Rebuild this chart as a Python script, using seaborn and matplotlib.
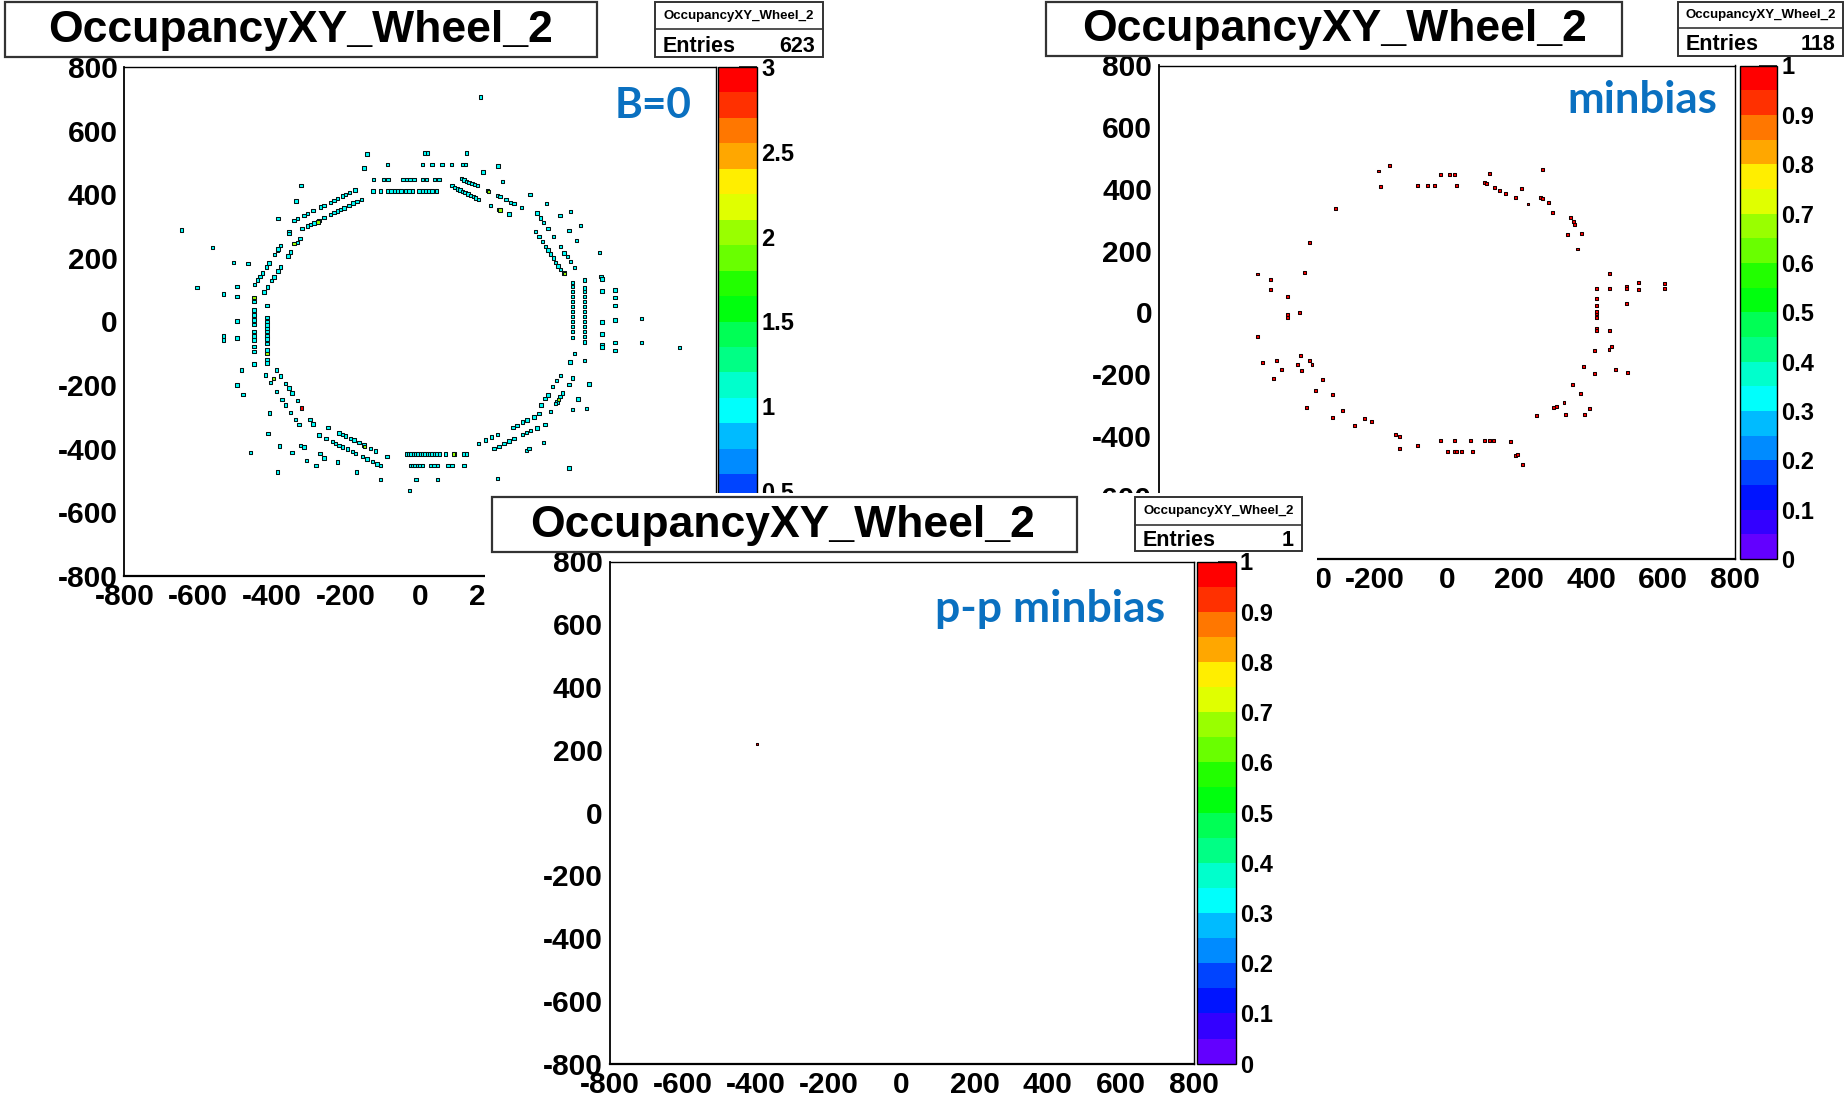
import colorsys

import numpy as np
import pandas as pd
import matplotlib
matplotlib.use('Agg')
import matplotlib.pyplot as plt
from matplotlib.cm import ScalarMappable
from matplotlib.colors import BoundaryNorm, ListedColormap
from matplotlib.patches import Rectangle
from matplotlib.ticker import MultipleLocator
import seaborn as sns

# ---- data (x, y in cm) ----

# B=0 run: bins with one hit
b0_hits = [
    # scattered hits
    (-143, 527), (13, 530), (20, 530), (126, 530), (-152, 482), (-88, 494), (6, 494), (33, 494),
    (59, 494), (85, 494), (116, 494), (123, 494), (211, 489), (171, 470), (223, 440), (-322, 427),
    (-336, 379), (-384, 324), (-355, 282), (298, 399), (343, 370), (379, 333), (408, 346), (435, 301),
    (403, 286), (424, 254), (485, 216), (-646, 287), (-562, 233), (-504, 186), (-466, 182), (-603, 107),
    (-531, 87), (-495, 110), (-495, 79), (-495, 2), (-531, -45), (-531, -58), (-495, -52), (164, 706),
    # top sector
    (-126, 446), (-98, 446), (-87, 446), (-46, 446), (-37, 446), (-27, 446), (-16, 446), (6, 446),
    (18, 446), (39, 446), (51, 446),
    (-127, 410), (-107, 410), (-87, 410), (-78, 410), (-69, 410), (-60, 410), (-51, 410), (-39, 410),
    (-30, 410), (-21, 410), (-3, 410), (6, 410), (15, 410), (24, 410), (33, 410), (45, 410),
    # top-right sectors
    (112, 449), (119, 445), (126, 440), (133, 437), (141, 434), (148, 430), (155, 427), (182, 411),
    (209, 396), (216, 392), (233, 383), (245, 375), (254, 370), (275, 359),
    (87, 427), (94, 422), (101, 417), (108, 413), (115, 409), (122, 405), (130, 401), (137, 396),
    (144, 392), (151, 388), (159, 383), (191, 365), (212, 353), (241, 338),
    (317, 341), (326, 325), (335, 312), (346, 293), (362, 267), (380, 236), (390, 215), (399, 204),
    (408, 189), (418, 170),
    (313, 283), (322, 267), (331, 252), (340, 236), (346, 225), (353, 212), (361, 199), (367, 186),
    (373, 175), (380, 164), (390, 152),
    # right sector
    (412, 123), (412, 110), (412, 94), (412, 78), (412, 62), (412, 47), (412, 31), (412, 15),
    (412, 0), (412, -16), (412, -32), (412, -51),
    (446, 131), (446, 105), (446, 94), (446, 78), (446, 62), (446, 47), (446, 31), (446, 15),
    (446, 0), (446, -16), (446, -32), (446, -48), (446, -64), (446, -122),
    (490, 141), (493, 133), (493, 96), (528, 99), (528, 76), (528, 50), (493, -1), (528, 5),
    (599, 10), (493, -39), (493, -72), (493, -80), (528, -66), (528, -91), (599, -66), (702, -82),
    # bottom-right sectors
    (418, -100), (406, -127), (380, -169), (370, -186), (358, -205), (346, -231), (338, -242),
    (328, -262),
    (412, -177), (403, -198), (385, -225), (379, -236), (371, -253), (367, -258),
    (457, -197), (428, -244), (412, -277), (451, -274), (353, -282), (335, -381), (403, -460),
    (322, -290), (308, -300), (290, -309), (277, -316), (263, -326), (252, -334), (209, -355),
    (193, -363), (178, -373), (159, -384),
    (338, -324), (317, -335), (299, -342), (288, -349), (277, -355), (254, -368), (241, -376),
    (227, -384), (214, -392), (200, -400),
    (288, -405), (295, -400), (209, -494),
    # bottom sector
    (-25, -452), (-19, -452), (-13, -452), (-6, -452), (0, -452), (6, -452), (29, -452), (38, -452),
    (47, -452), (76, -452), (87, -452), (119, -452),
    (-36, -417), (-30, -417), (-24, -417), (-17, -417), (-11, -417), (-5, -417), (2, -417),
    (8, -417), (14, -417), (21, -417), (27, -417), (33, -417), (39, -417), (46, -417), (52, -417),
    (69, -417), (94, -417), (119, -417), (126, -417),
    (-107, -496), (-11, -496), (47, -496), (-28, -532),
    # bottom-left sectors
    (-89, -425), (-120, -407), (-134, -399), (-152, -388), (-165, -381), (-179, -373), (-188, -367),
    (-201, -360), (-210, -355), (-219, -350),
    (-107, -453), (-116, -448), (-129, -441), (-143, -432), (-156, -425), (-174, -415), (-183, -409),
    (-197, -401), (-210, -394), (-219, -389), (-228, -384), (-237, -378), (-254, -368), (-273, -357),
    (-249, -334), (-271, -415), (-260, -429), (-224, -442), (-282, -452), (-307, -436), (-346, -412),
    (-381, -391), (-386, -473), (-458, -412), (-323, -389), (-314, -394), (-411, -352), (-172, -473),
    (-418, -168), (-404, -192), (-388, -220), (-373, -246), (-364, -262), (-350, -286), (-337, -308),
    (-328, -324),
    (-388, -152), (-377, -171), (-364, -194), (-355, -209), (-346, -225), (-332, -249), (-298, -308),
    (-290, -322),
    (-407, -287), (-483, -153), (-495, -200), (-479, -229),
    # left sector
    (-449, 62), (-449, 36), (-449, 20), (-449, 5), (-449, -9), (-449, -32), (-449, -45), (-449, -58),
    (-449, -79), (-449, -95), (-449, -134),
    (-414, 50), (-414, 12), (-414, 0), (-414, -11), (-414, -22), (-414, -32), (-414, -45),
    (-414, -55), (-414, -69), (-414, -90), (-414, -121), (-414, -130),
    # top-left sectors
    (-448, 116), (-440, 130), (-433, 142), (-427, 152), (-416, 171), (-409, 184), (-393, 211),
    (-386, 223), (-384, 228), (-377, 239), (-355, 277),
    (-422, 93), (-413, 109), (-402, 128), (-395, 140), (-384, 159), (-377, 171), (-357, 206),
    (-350, 218), (-332, 249), (-325, 261),
    (-341, 318), (-332, 323), (-314, 334), (-305, 339), (-290, 348), (-269, 360), (-260, 365),
    (-242, 375), (-233, 381), (-224, 386), (-210, 394), (-201, 399), (-190, 405), (-176, 413),
    (-319, 292), (-305, 300), (-296, 305), (-287, 310), (-273, 318), (-260, 326), (-242, 336),
    (-233, 342), (-224, 347), (-215, 352), (-206, 357), (-192, 365), (-181, 372), (-170, 378),
    (-159, 384),
]
# B=0 run: bins with two and three hits
b0_double = [(-341, 245), (-449, 75), (-414, -100), (-396, -180), (186, 408), (216, 350),
             (391, 150), (375, -245), (90, -417), (-150, -392), (-276, 313)]
b0_triple = [(-320, -272)]

# minbias run
mb_hits = [
    (-191, 458), (-161, 475), (-186, 407), (-311, 336), (-383, 225), (-396, 130), (-526, 124),
    (-490, 107), (-490, 75), (-444, 51), (-409, 0), (-444, -7), (-444, -17), (-526, -78),
    (-513, -163), (-474, -157), (-460, -187), (-483, -216), (-416, -169), (-408, -140), (-403, -190),
    (-383, -155), (-375, -169), (-346, -218), (-365, -255), (-319, -267), (-389, -310), (-317, -342),
    (-289, -318), (-256, -368), (-230, -344), (-211, -355), (-142, -395), (-131, -402), (-131, -443),
    (-83, -431), (-17, -417), (21, -417), (1, -451), (21, -451), (27, -451), (41, -451), (65, -417),
    (72, -451), (103, -417), (118, -417), (129, -417), (176, -419), (191, -465), (196, -462),
    (210, -494), (248, -336), (296, -310), (305, -307), (325, -293), (329, -330), (348, -235),
    (371, -264), (383, -333), (396, -312), (380, -175), (409, -199), (411, -124), (450, -122),
    (457, -112), (467, -187), (502, -196), (416, -54), (416, -58), (451, -59), (416, -16), (416, -3),
    (416, 3), (416, 23), (416, 44), (416, 77), (451, 77), (451, 127), (498, 83), (498, 76),
    (533, 95), (533, 75), (604, 92), (604, 77), (498, 29), (362, 205), (335, 252), (374, 255),
    (342, 308), (351, 295), (355, 285), (294, 324), (281, 356), (259, 371), (264, 368), (225, 351),
    (207, 400), (190, 371), (162, 385), (147, 395), (133, 404), (103, 421), (110, 416), (119, 451),
    (264, 463), (27, 412), (20, 448), (6, 448), (-17, 448), (-34, 412), (-55, 412), (-83, 412),
]

# p-p minbias run
pp_hits = [(-395, 218)]

entries = ['623', '118', '1']
labels = ['B=0', 'minbias', 'p-p minbias']
title = 'OccupancyXY_Wheel_2'

# ---- style ----
sns.set_style('white')
plt.rcParams['font.family'] = ['Liberation Sans', 'DejaVu Sans']
plt.rcParams['font.weight'] = 'bold'
plt.rcParams['axes.unicode_minus'] = False
for key in ('text.color', 'axes.labelcolor', 'xtick.color', 'ytick.color', 'axes.edgecolor'):
    plt.rcParams[key] = 'black'

W, H = 1845, 1106
fig = plt.figure(figsize=(W / 100, H / 100), dpi=100)
BLUE = '#0a70c0'


def root_palette(n=20):
    # ROOT "pretty" palette (SetPalette(1)) with 20 contour levels
    cols = []
    for i in range(n):
        idx = int((i + 0.99) * 50 / n)
        hue = 280 - (idx + 1) * 5.6
        cols.append(colorsys.hls_to_rgb(max(hue, 0) / 360, 0.5, 1.0))
    return cols


PAL = root_palette()


def frac(box):
    x0, y0, x1, y1 = box
    return [x0 / W, 1 - y1 / H, (x1 - x0) / W, (y1 - y0) / H]


def rect(box, z, lw=1.6):
    x0, y0, x1, y1 = box
    fig.add_artist(Rectangle((x0 / W, 1 - y1 / H), (x1 - x0) / W, (y1 - y0) / H,
                             transform=fig.transFigure, facecolor='white',
                             edgecolor='#333333', linewidth=lw, zorder=z))


def panel(df, vmax, frame, cbox, tbox, tx, tbase, sbox, sdiv, entry, label, lxy, lsize, z,
          msize, edge):
    ax = fig.add_axes(frac(frame), zorder=z)
    vals = sorted(df['v'].unique())
    pal = {v: PAL[min(int(v / (vmax / 20) + 1e-9), 19)] for v in vals}
    sns.scatterplot(data=df, x='x', y='y', hue='v', palette=pal, marker='s', s=msize,
                    edgecolor=edge, linewidth=0.75, legend=False, ax=ax)
    ax.set_xlim(-800, 800)
    ax.set_ylim(-800, 800)
    ax.set_xlabel('')
    ax.set_ylabel('')
    for a in (ax.xaxis, ax.yaxis):
        a.set_major_locator(MultipleLocator(200))
        a.set_minor_locator(MultipleLocator(50))
    ax.tick_params(which='both', direction='in', top=False, right=False, width=1.1,
                   color='black', labelcolor='black', labelsize=21.5, pad=5)
    ax.tick_params(axis='y', which='major', length=14)
    ax.tick_params(axis='y', which='minor', length=7)
    ax.tick_params(axis='x', which='major', length=11)
    ax.tick_params(axis='x', which='minor', length=5.5)
    for s in ax.spines.values():
        s.set_color('black')
        s.set_linewidth(1.0)
    ax.spines['bottom'].set_linewidth(1.6)
    ax.spines['left'].set_linewidth(1.3)

    # palette axis
    cax = fig.add_axes(frac(cbox), zorder=z)
    cmap = ListedColormap(PAL)
    norm = BoundaryNorm(np.linspace(0, vmax, 21), 20)
    cb = fig.colorbar(ScalarMappable(norm=norm, cmap=cmap), cax=cax)
    step = 0.5 if vmax > 1 else 0.1
    ticks = np.round(np.arange(0, vmax + step / 2, step), 2)
    cb.set_ticks(ticks, labels=[f'{t:g}' for t in ticks])
    cb.minorticks_off()
    cb.outline.set_linewidth(1.0)
    cb.outline.set_edgecolor('black')
    cax.tick_params(direction='in', length=13, width=1.1, labelsize=17, pad=3,
                    right=True, left=False, color='black', labelcolor='black')

    # title box
    rect(tbox, z + 5)
    fig.text(tx / W, 1 - tbase / H, title, ha='center', va='baseline', fontsize=32,
             color='black', zorder=z + 6)
    # stats box
    rect(sbox, z + 5, lw=1.4)
    x0, y0, x1, y1 = sbox
    fig.add_artist(plt.Line2D([x0 / W, x1 / W], [1 - sdiv / H, 1 - sdiv / H],
                              transform=fig.transFigure, color='#333333', lw=1.2,
                              zorder=z + 6))
    fig.text((x0 + x1) / 2 / W, 1 - (y0 + sdiv) / 2 / H, title, ha='center', va='center',
             fontsize=9.5, color='black', zorder=z + 6)
    fig.text((x0 + 8) / W, 1 - (y1 - 5) / H, 'Entries', ha='left', va='baseline',
             fontsize=15.5, color='black', zorder=z + 6)
    fig.text((x1 - 8) / W, 1 - (y1 - 5) / H, entry, ha='right', va='baseline',
             fontsize=15.5, color='black', zorder=z + 6)
    # run label
    fig.text(lxy[0] / W, 1 - lxy[1] / H, label, ha='right', va='baseline', color=BLUE,
             fontsize=lsize, family=['Lato', 'DejaVu Sans'], fontweight='bold', zorder=z + 6)
    return ax


def to_df(groups):
    rows = []
    for pts, v in groups:
        rows += [(x, y, v) for x, y in pts]
    return pd.DataFrame(rows, columns=['x', 'y', 'v'])


df_b0 = to_df([(b0_hits, 1), (b0_double, 2), (b0_triple, 3)])
df_mb = to_df([(mb_hits, 1)])
df_pp = to_df([(pp_hits, 1)])

panel(df_b0, 3, (124.4, 67, 715.6, 576), (718.4, 67, 757, 576),
      (5, 2, 597, 57), 301, 42, (655, 2, 823, 57), 29, entries[0], labels[0],
      (691, 118.5), 30.5, 0, 6, '#061414')
panel(df_mb, 1, (1159, 65.5, 1735, 559), (1740, 65.5, 1777, 559),
      (1046, 2, 1622, 56), 1334, 41.5, (1678, 2, 1843, 55.5), 28, entries[1], labels[1],
      (1717, 113), 31.5, 0, 4.5, '#150000')

# the p-p minbias canvas is pasted over the other two
fig.add_artist(Rectangle((485 / W, 0), (1317 - 485) / W, 1 - 493 / H,
                         transform=fig.transFigure, facecolor='white', edgecolor='none',
                         zorder=0.5))

panel(df_pp, 1, (609.7, 561.5, 1193.6, 1063.7), (1197, 561.5, 1235.5, 1063.7),
      (491.6, 497, 1077, 552), 783, 537, (1135, 497, 1302, 551), 524.6, entries[2],
      labels[2], (1165.6, 621.6), 32, 1, 4.5, '#150000')

fig.savefig('out.png', dpi=100)
